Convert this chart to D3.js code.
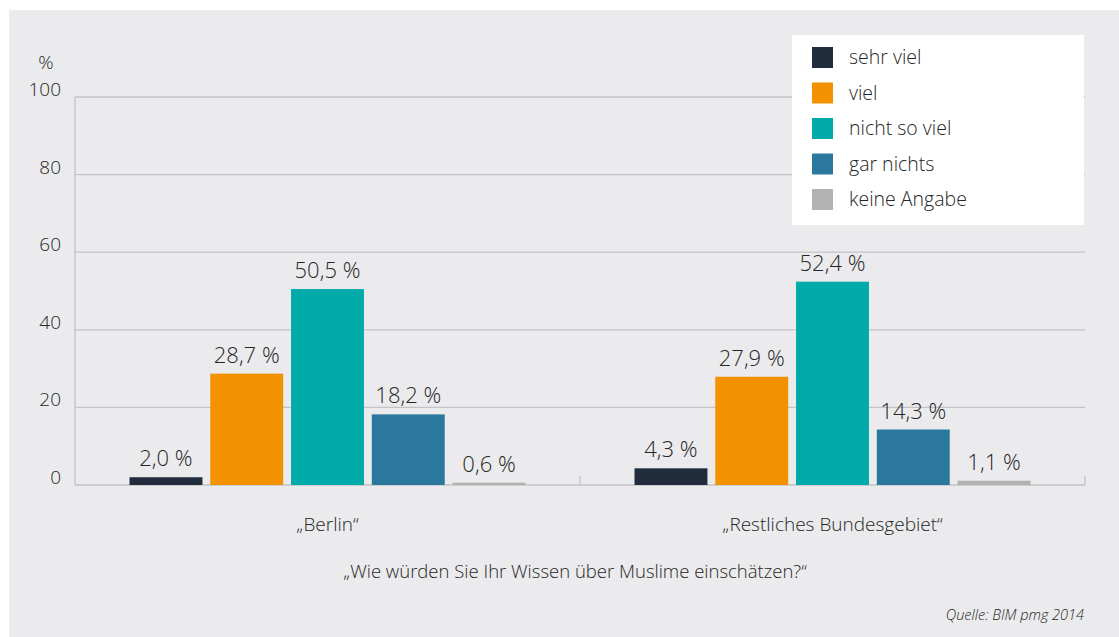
<!DOCTYPE html>
<html>
<head>
<meta charset="utf-8">
<script src="https://cdn.jsdelivr.net/npm/d3@7"></script>
<style>
  body { margin: 0; background: #fff; }
  text { font-family: "Open Sans", sans-serif; fill: #262626; font-weight: 300; }
</style>
</head>
<body>
<script>
// Data
const categories = ["„Berlin“", "„Restliches Bundesgebiet“"];
const series = ["sehr viel", "viel", "nicht so viel", "gar nichts", "keine Angabe"];
const berlin = [2.0, 28.7, 50.5, 18.2, 0.6];
const rest = [4.3, 27.9, 52.4, 14.3, 1.1];
const values = [berlin, rest];
const yTicks = [0, 20, 40, 60, 80, 100];
const colors = ["#212d3d", "#f39200", "#00aaa8", "#2a789e", "#b2b2b2"];

const W = 1119, H = 637;
const margin = { top: 97, right: 34, bottom: 152, left: 75 };
const width = W - margin.left - margin.right;
const height = H - margin.top - margin.bottom;

const svg = d3.select("body")
    .append("svg")
    .attr("width", W)
    .attr("height", H);

// gray panel
svg.append("rect")
    .attr("x", 9).attr("y", 10)
    .attr("width", W - 9).attr("height", H - 10)
    .attr("fill", "#ebebed");

const g = svg.append("g")
    .attr("transform", `translate(${margin.left},${margin.top})`);

const x0 = d3.scaleBand()
    .domain(categories)
    .range([0, width]);

const x1 = d3.scaleBand()
    .domain(series)
    .range([54.5, x0.bandwidth() - 54.5])
    .paddingInner(0.097);

const y = d3.scaleLinear()
    .domain([0, 100])
    .range([height, 0]);

// gridlines
g.selectAll(".grid")
    .data(yTicks)
    .enter()
    .append("line")
    .attr("x1", 0)
    .attr("x2", width)
    .attr("y1", d => y(d))
    .attr("y2", d => y(d))
    .attr("stroke", "#c3c3c5")
    .attr("stroke-width", 1.3);

// y axis line
g.append("line")
    .attr("x1", 0).attr("x2", 0)
    .attr("y1", 0).attr("y2", height)
    .attr("stroke", "#c3c3c5")
    .attr("stroke-width", 1.3);

// category separator ticks
g.selectAll(".ctick")
    .data([categories[1], null])
    .enter()
    .append("line")
    .attr("x1", d => d ? x0(d) : width)
    .attr("x2", d => d ? x0(d) : width)
    .attr("y1", height - 9)
    .attr("y2", height)
    .attr("stroke", "#c3c3c5")
    .attr("stroke-width", 1.3);

// y tick labels
g.selectAll(".ylab")
    .data(yTicks)
    .enter()
    .append("text")
    .attr("x", -14)
    .attr("y", d => y(d) - 1)
    .attr("text-anchor", "end")
    .attr("font-size", 19)
    .text(d => d);

svg.append("text")
    .attr("x", 46)
    .attr("y", 69)
    .attr("text-anchor", "middle")
    .attr("font-size", 19)
    .text("%");

// bars
const group = g.selectAll(".group")
    .data(categories)
    .enter()
    .append("g")
    .attr("transform", d => `translate(${x0(d)},0)`);

group.selectAll("rect")
    .data((d, i) => values[i].map((v, j) => ({ key: series[j], value: v, color: colors[j] })))
    .enter()
    .append("rect")
    .attr("x", d => x1(d.key))
    .attr("width", x1.bandwidth())
    .attr("y", d => y(d.value))
    .attr("height", d => height - y(d.value))
    .attr("fill", d => d.color);

group.selectAll(".vlab")
    .data((d, i) => values[i].map((v, j) => ({ key: series[j], value: v })))
    .enter()
    .append("text")
    .attr("x", d => x1(d.key) + x1.bandwidth() / 2)
    .attr("y", d => y(d.value) - 11)
    .attr("text-anchor", "middle")
    .attr("font-size", 22)
    .text(d => d3.format(".1f")(d.value).replace(".", ",") + " %");

// category labels
g.selectAll(".clab")
    .data(categories)
    .enter()
    .append("text")
    .attr("x", d => x0(d) + x0.bandwidth() / 2)
    .attr("y", height + 46)
    .attr("text-anchor", "middle")
    .attr("font-size", 19)
    .text(d => d);

svg.append("text")
    .attr("x", 575)
    .attr("y", 578)
    .attr("text-anchor", "middle")
    .attr("font-size", 18.5)
    .text("„Wie würden Sie Ihr Wissen über Muslime einschätzen?“");

svg.append("text")
    .attr("x", 1084)
    .attr("y", 620)
    .attr("text-anchor", "end")
    .attr("font-size", 14.5)
    .attr("font-style", "italic")
    .text("Quelle: BIM pmg 2014");

// legend
const legend = svg.append("g")
    .attr("transform", "translate(792,35)");

legend.append("rect")
    .attr("width", 292)
    .attr("height", 190)
    .attr("fill", "#fff");

const item = legend.selectAll(".item")
    .data(series)
    .enter()
    .append("g")
    .attr("transform", (d, i) => `translate(20,${12 + i * 35.5})`);

item.append("rect")
    .attr("width", 21)
    .attr("height", 21)
    .attr("fill", (d, i) => colors[i]);

item.append("text")
    .attr("x", 37)
    .attr("y", 17)
    .attr("font-size", 19.5)
    .text(d => d);
</script>
</body>
</html>
